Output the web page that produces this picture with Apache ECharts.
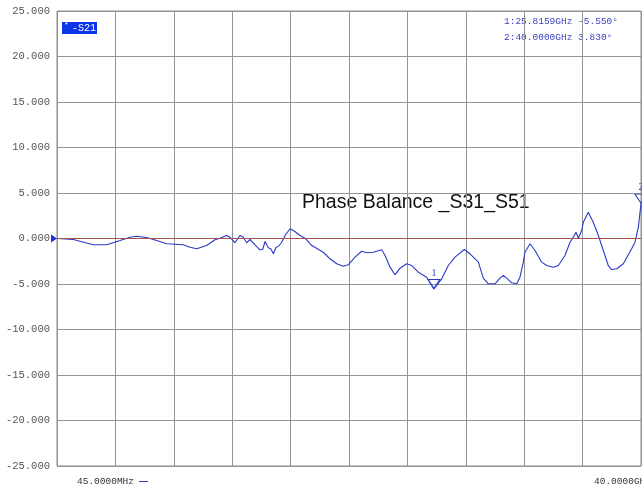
<!DOCTYPE html>
<html>
<head>
<meta charset="utf-8">
<script src="https://cdn.jsdelivr.net/npm/echarts@6/dist/echarts.min.js"></script>
<style>
  html, body { margin: 0; padding: 0; background: #fff; }
  #chart { width: 642px; height: 493px; }
</style>
</head>
<body>
<div id="chart"></div>
<script>
// trace: frequency in GHz, phase difference in degrees
var freqGHz = [0.045, 1.12, 2.49, 3.40, 4.32, 5.00, 5.46, 6.14, 6.83, 7.51, 8.65, 9.11, 9.57, 10.25,
  10.82, 11.16, 11.62, 11.85, 12.19, 12.53, 12.76, 12.99, 13.22, 13.56, 13.90, 14.09, 14.25, 14.47,
  14.64, 14.82, 15.00, 15.16, 15.39, 15.62, 15.96, 16.30, 16.64, 16.99, 17.45, 18.24, 18.70, 19.16,
  19.61, 19.95, 20.41, 20.87, 21.21, 21.66, 22.24, 22.47, 22.81, 23.15, 23.49, 23.95, 24.29, 24.75,
  25.32, 25.8159, 26.35, 26.80, 27.26, 27.90, 28.29, 28.86, 29.20, 29.54, 30.00, 30.34, 30.57, 30.80,
  31.14, 31.49, 31.71, 31.94, 32.05, 32.40, 32.74, 33.20, 33.54, 33.99, 34.34, 34.79, 35.14, 35.36,
  35.55, 35.71, 35.94, 36.05, 36.39, 36.73, 37.08, 37.42, 37.76, 37.99, 38.34, 38.79, 39.36, 39.59,
  39.82, 40.0];
var phaseDeg = [0, -0.11, -0.69, -0.69, -0.22, 0.14, 0.25, 0.11, -0.22, -0.58, -0.69, -0.96, -1.13, -0.77,
  -0.14, 0.03, 0.33, 0.14, -0.47, 0.33, 0.14, -0.47, -0.11, -0.69, -1.24, -1.21, -0.33, -1.02,
  -1.13, -1.68, -0.96, -0.88, -0.41, 0.33, 1.07, 0.77, 0.33, 0.03, -0.77, -1.51, -2.23, -2.78,
  -3.04, -2.89, -2.05, -1.40, -1.57, -1.51, -1.24, -1.87, -3.15, -3.99, -3.26, -2.78, -2.97, -3.70,
  -4.25, -5.55, -4.43, -2.97, -2.05, -1.21, -1.68, -2.60, -4.36, -4.98, -4.98, -4.36, -4.07, -4.36,
  -4.87, -4.98, -4.25, -2.60, -1.51, -0.58, -1.32, -2.60, -2.97, -3.15, -2.97, -1.87, -0.41, 0.14,
  0.69, 0.03, 0.88, 1.79, 2.89, 1.79, 0.33, -1.32, -2.97, -3.41, -3.33, -2.78, -1.13, -0.41,
  1.24, 3.83];

// markers
var markerNames = ['1', '2'];
var markerFreq = [25.8159, 40.0];
var markerPhase = [-5.55, 3.83];
var markerText = ['1:25.8159GHz -5.550°', '2:40.0000GHz 3.830°'];

var traceColor = '#2b3ac6';
var mono = '"Liberation Mono", "DejaVu Sans Mono", monospace';

var chartDom = document.getElementById('chart');
var myChart = echarts.init(chartDom);

var points = freqGHz.map(function (f, i) { return [f, phaseDeg[i]]; });

var markers = markerNames.map(function (n, i) {
  return {
    name: n,
    coord: [markerFreq[i], markerPhase[i]],
    symbol: 'triangle',
    symbolSize: [12, 9],
    symbolRotate: 180,
    symbolOffset: [0, -5],
    itemStyle: { color: 'rgba(255,255,255,0)', borderColor: traceColor, borderWidth: 1 },
    label: { show: true, position: 'top', distance: 1, formatter: n,
      color: traceColor, fontSize: 10, fontFamily: 'serif' }
  };
});
// reference level arrow at the left edge
markers.push({
  coord: [0, 0],
  symbol: 'triangle',
  symbolSize: [8, 6],
  symbolRotate: -90,
  symbolOffset: [-3, 0],
  itemStyle: { color: '#1a2fe0' },
  label: { show: false }
});

var option = {
  animation: false,
  backgroundColor: '#ffffff',
  grid: {
    left: 57, right: 1, top: 11, bottom: 27,
    show: true, borderColor: '#8c8c8c', borderWidth: 1, backgroundColor: '#ffffff'
  },
  xAxis: {
    type: 'value', min: 0, max: 40, interval: 4,
    axisLine: { show: false }, axisTick: { show: false }, axisLabel: { show: false },
    splitLine: { show: true, lineStyle: { color: '#949494', width: 1 } }
  },
  yAxis: {
    type: 'value', min: -25, max: 25, interval: 5,
    axisLine: { show: false }, axisTick: { show: false },
    axisLabel: {
      margin: 7, color: '#555', fontSize: 10.5, fontFamily: mono,
      formatter: function (v) { return v.toFixed(3); }
    },
    splitLine: { show: true, lineStyle: { color: '#949494', width: 1 } }
  },
  series: [{
    type: 'line',
    data: points,
    showSymbol: false,
    clip: false,
    lineStyle: { color: traceColor, width: 1.1 },
    itemStyle: { color: traceColor },
    markLine: {
      silent: true, symbol: 'none', animation: false,
      label: { show: false },
      lineStyle: { color: '#a3534f', width: 1, type: 'solid' },
      data: [{ yAxis: 0 }]
    },
    markPoint: { data: markers, animation: false }
  }],
  graphic: [
    { type: 'rect', left: 62, top: 22, shape: { width: 35, height: 12 }, style: { fill: '#0f35e8' } },
    { type: 'text', left: 64, top: 21, style: { text: '*', fill: '#fff', font: '8px ' + mono } },
    { type: 'text', left: 72, top: 23, style: { text: '-S21', fill: '#fff', font: '10px ' + mono } },
    { type: 'text', left: 504, top: 16, style: { text: markerText[0], fill: '#3b3fc0', font: '9.5px ' + mono } },
    { type: 'text', left: 504, top: 32, style: { text: markerText[1], fill: '#3b3fc0', font: '9.5px ' + mono } },
    { type: 'text', left: 302, top: 193, style: { text: 'Phase Balance _S31_S51', fill: '#111',
      font: '19.5px "Liberation Sans", Arial, sans-serif' } },
    { type: 'text', left: 77, top: 476, style: { text: '45.0000MHz', fill: '#333', font: '9.5px ' + mono } },
    { type: 'rect', left: 139, top: 481, shape: { width: 9, height: 1 }, style: { fill: traceColor } },
    { type: 'text', left: 594, top: 476, style: { text: '40.0000GHz', fill: '#333', font: '9.5px ' + mono } }
  ]
};

option && myChart.setOption(option);
</script>
</body>
</html>
